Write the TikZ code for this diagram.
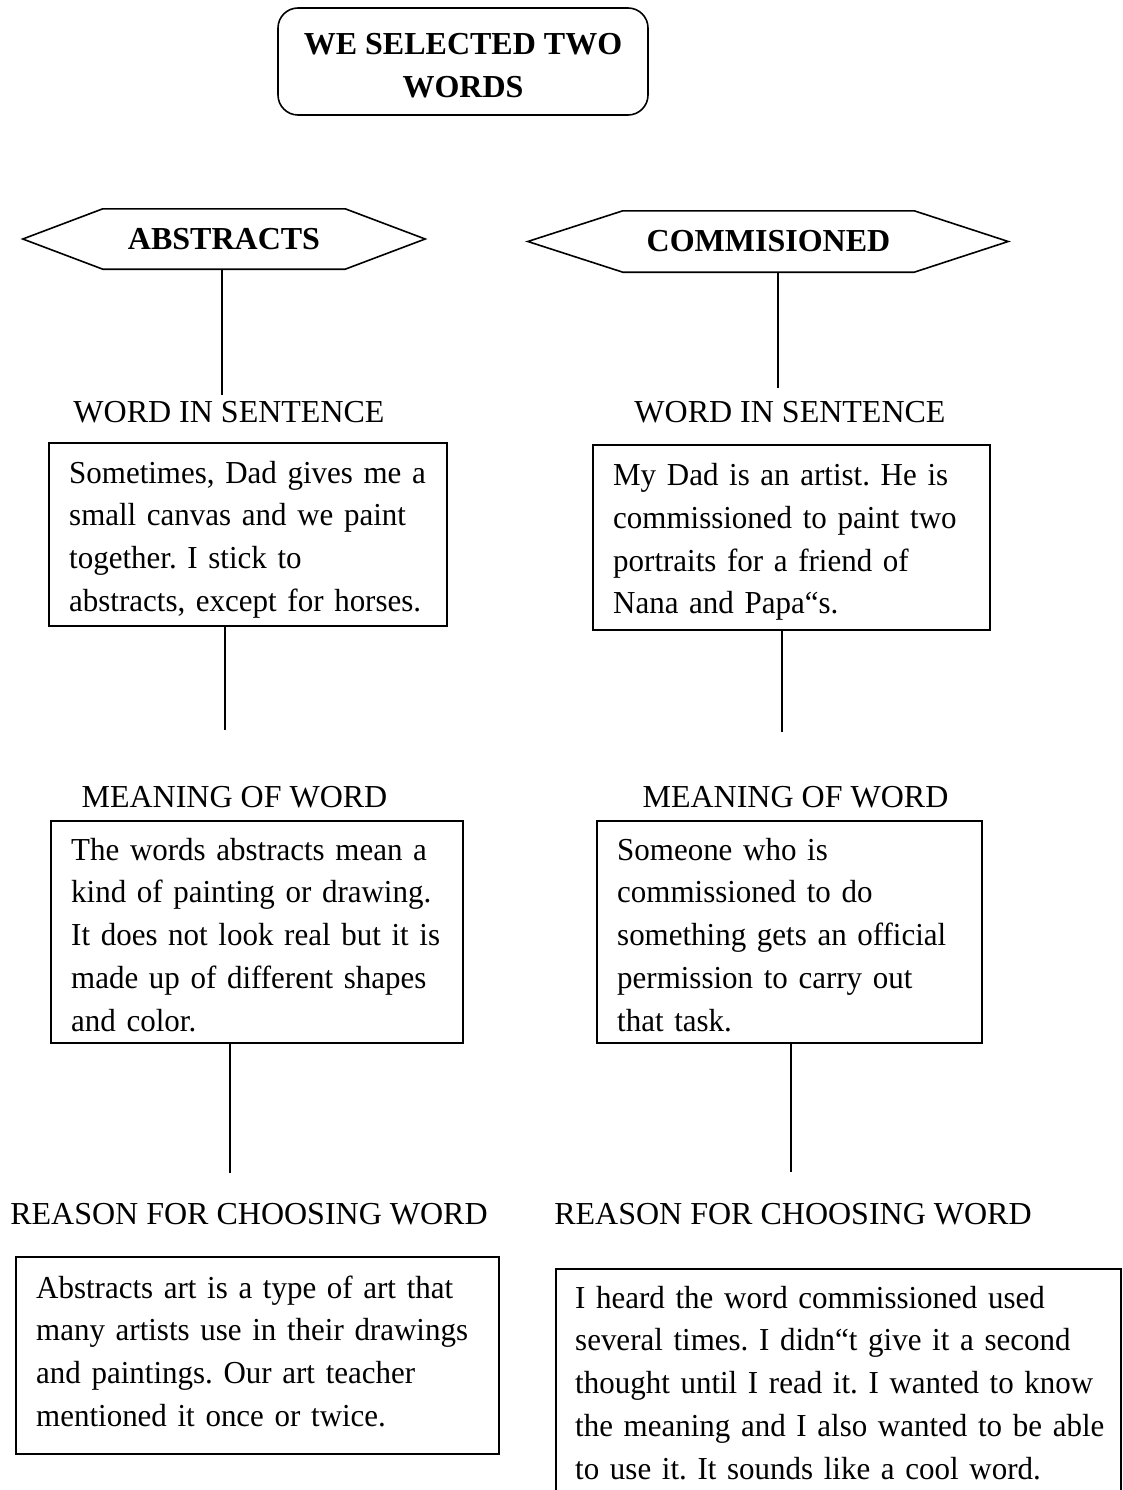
\documentclass[tikz,border=0pt]{standalone}
\usepackage{fontspec}
\setmainfont{Liberation Serif}
\newfontfamily\bodyfam{Liberation Serif}[FakeStretch=0.968]
\newcommand\lblfnt{\fontsize{32}{42.7}\selectfont}
\newcommand\bodyfnt{\bodyfam\fontsize{32}{42.7}\selectfont\frenchspacing}
\newcommand\fl{\rule{0pt}{24pt}}
\begin{document}
\begin{tikzpicture}[x=1pt,y=-1pt,
  rbox/.style={draw, line width=1.6pt, anchor=north west, inner sep=0pt},
  txt/.style={anchor=north west, align=left, inner sep=0pt, text width=600pt, font=\bodyfnt},
  lbl/.style={anchor=base, inner sep=0pt, font=\lblfnt},
  hexnode/.style={inner sep=0pt, font=\lblfnt\bfseries},
  hexline/.style={line width=1.6pt, line join=miter},
  conn/.style={line width=1.4pt}]
\useasboundingbox (0,0) rectangle (1123,1490);
\clip (0,0) rectangle (1123,1490);
% title
\node[draw, line width=1.6pt, rounded corners=20pt, minimum width=370pt, minimum height=107pt,
      align=center, inner sep=0pt, font=\lblfnt\bfseries] (title) at (463,61.5)
      {\rule{0pt}{30pt}WE SELECTED TWO\\WORDS};
% hexagons
\node[hexnode, minimum width=242pt, minimum height=60pt] (hexA) at (224,239) {ABSTRACTS};
\draw[hexline] (hexA.north west) -- (hexA.north east) -- ([xshift=80pt]hexA.east)
  -- (hexA.south east) -- (hexA.south west) -- ([xshift=-80pt]hexA.west) -- cycle;
\node[hexnode, minimum width=291pt, minimum height=61pt] (hexB) at (768.5,241.5) {COMMISIONED};
\draw[hexline] (hexB.north west) -- (hexB.north east) -- ([xshift=94pt]hexB.east)
  -- (hexB.south east) -- (hexB.south west) -- ([xshift=-95pt]hexB.west) -- cycle;
% labels
\node[lbl] (wisA) at (229,422) {WORD IN SENTENCE};
\node[lbl] (wisB) at (790,422) {WORD IN SENTENCE};
\node[lbl] (mowA) at (234.5,807) {MEANING OF WORD};
\node[lbl] (mowB) at (795.5,807) {MEANING OF WORD};
\node[lbl] (rfcA) at (249,1224) {REASON FOR CHOOSING WORD};
\node[lbl] (rfcB) at (793,1224) {REASON FOR CHOOSING WORD};
% boxes
\node[rbox, minimum width=398pt, minimum height=183pt] (boxA1) at (48,442) {};
\node[rbox, minimum width=397pt, minimum height=185pt] (boxB1) at (592,444) {};
\node[rbox, minimum width=412pt, minimum height=222pt] (boxA2) at (50,820) {};
\node[rbox, minimum width=385pt, minimum height=222pt] (boxB2) at (596,820) {};
\node[rbox, minimum width=483pt, minimum height=197pt] (boxA3) at (15,1256) {};
\node[rbox, minimum width=565pt, minimum height=240pt] (boxB3) at (555,1268) {};
% box texts (anchored 24pt above the first baseline)
\node[txt] (tA1) at (69,459)
  {\fl Sometimes, Dad gives me a\\small canvas and we paint\\together. I stick to\\abstracts, except for horses.};
\node[txt] (tB1) at (613,461.5)
  {\fl My Dad is an artist. He is\\commissioned to paint two\\portraits for a friend of\\Nana and Papa“s.};
\node[txt] (tA2) at (71,836)
  {\fl The words abstracts mean a\\kind of painting or drawing.\\It does not look real but it is\\made up of different shapes\\and color.};
\node[txt] (tB2) at (617,836)
  {\fl Someone who is\\commissioned to do\\something gets an official\\permission to carry out\\that task.};
\node[txt] (tA3) at (36,1274)
  {\fl Abstracts art is a type of art that\\many artists use in their drawings\\and paintings. Our art teacher\\mentioned it once or twice.};
\node[txt] (tB3) at (575,1284)
  {\fl I heard the word commissioned used\\several times. I didn“t give it a second\\thought until I read it. I wanted to know\\the meaning and I also wanted to be able\\to use it. It sounds like a cool word.};
% connector ends
\coordinate (cA1) at (222,395);
\coordinate (cB1) at (778,388);
\coordinate (cA2) at (225,730);
\coordinate (cB2) at (782,732);
\coordinate (cA3) at (230,1173);
\coordinate (cB3) at (791,1172);
% connectors
\draw[conn] (hexA.south -| cA1) -- (cA1);
\draw[conn] (hexB.south -| cB1) -- (cB1);
\draw[conn] (boxA1.south -| cA2) -- (cA2);
\draw[conn] (boxB1.south -| cB2) -- (cB2);
\draw[conn] (boxA2.south -| cA3) -- (cA3);
\draw[conn] (boxB2.south -| cB3) -- (cB3);
\end{tikzpicture}
\end{document}
